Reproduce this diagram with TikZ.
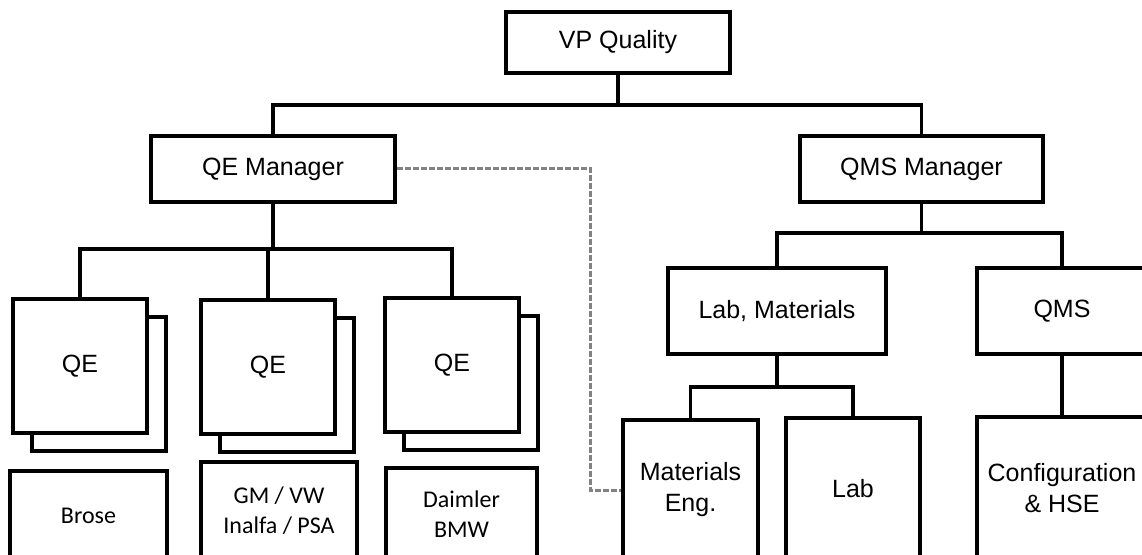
\documentclass[tikz,border=0pt]{standalone}
\usepackage{fontspec}
\setmainfont{Liberation Sans}
\newfontfamily\calib{Carlito}
\begin{document}
\begin{tikzpicture}[x=1pt,y=-1pt,
  box/.style={draw=black,line width=3.2pt,fill=white,inner sep=0pt,align=center,
    font=\fontsize{25}{31}\selectfont},
  cbox/.style={box,font=\calib\fontsize{24}{30}\selectfont},
  qebox/.style={box,minimum width=134pt,minimum height=134pt},
  conn/.style={line width=3.2pt,line cap=rect},
  dashline/.style={draw={rgb,255:red,130;green,130;blue,130},line width=3pt,dash pattern=on 6pt off 2pt}]
\useasboundingbox (0,0) rectangle (1142,554);
\fill[white] (0,0) rectangle (1142,554);
% top levels
\node[box,minimum width=224pt,minimum height=61pt] (vp) at (618,42.5) {VP Quality};
\node[box,minimum width=244pt,minimum height=66pt] (qem) at (273,169) {QE Manager};
\node[box,minimum width=243pt,minimum height=66pt] (qmsm) at (921.5,169) {QMS Manager};
\node[box,minimum width=218pt,minimum height=86pt] (labm) at (777,311) {Lab, Materials};
\node[box,minimum width=170pt,minimum height=86pt] (qms) at (1062,311) {QMS};
% lower right
\node[box,minimum width=135pt,minimum height=140pt] (mat) at (690.5,490) {Materials\\Eng.};
\node[box,minimum width=134pt,minimum height=142pt] (lab) at (853,489) {Lab};
\node[box,minimum width=170pt,minimum height=143pt] (cfg) at (1062,488.5) {Configuration\\\& HSE};
% QE stacks
\node[qebox] (qe1b) at (99,384) {};
\node[qebox] (qe1) at (80,366) {QE};
\node[qebox] (qe2b) at (287,385) {};
\node[qebox] (qe2) at (268,367) {QE};
\node[qebox] (qe3b) at (471,383) {};
\node[qebox] (qe3) at (452,365) {QE};
% customer boxes
\node[cbox,minimum width=157pt,minimum height=89pt] (brose) at (88.5,515.5) {Brose};
\node[cbox,minimum width=156pt,minimum height=98pt] (gm) at (279,511) {GM / VW\\Inalfa / PSA};
\node[cbox,minimum width=151pt,minimum height=92pt] (dai) at (461.5,514) {Daimler\\BMW};
% connectors
\coordinate (j1) at (618,105);
\draw[conn] (vp.south) -- (j1);
\draw[conn] (qem.north) |- (j1) -| (qmsm.north);
\coordinate (j2) at (273,249);
\draw[conn] (qem.south) -- (j2);
\draw[conn] (qe1.north) |- (j2) -| (qe3.north);
\draw[conn] (qe2.north) -- (qe2.north |- j2);
\coordinate (j3) at (921.5,233);
\draw[conn] (qmsm.south) -- (j3);
\draw[conn] (labm.north) |- (j3) -| (qms.north);
\coordinate (j4) at (777,387);
\draw[conn] (labm.south) -- (j4);
\draw[conn] (mat.north) |- (j4) -| (lab.north);
\draw[conn] (qms.south) -- (cfg.north);
% dotted-line report
\coordinate (d1) at (590,168);
\draw[dashline] (qem.east |- d1) -- (d1) |- (mat.west);
\end{tikzpicture}
\end{document}
